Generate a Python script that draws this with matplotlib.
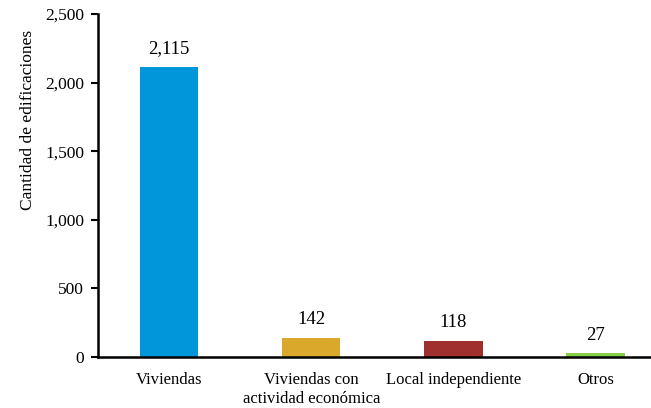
import matplotlib
matplotlib.use('Agg')
import matplotlib.pyplot as plt
from matplotlib.ticker import FuncFormatter

categorias = ['Viviendas', 'Viviendas con\nactividad económica', 'Local independiente', 'Otros']
edificaciones = [2115, 142, 118, 27]
colores = ['#0096D9', '#DAA92B', '#A0302D', '#86CE4A']

plt.rcParams['font.family'] = ['Liberation Serif', 'DejaVu Serif']

fig = plt.figure(figsize=(6.51, 4.08), dpi=100)
ax = fig.add_axes([0.1505, 0.125, 0.8495, 0.8407])

x = range(len(categorias))
ax.bar(x, edificaciones, width=0.41, color=colores)

for i, v in enumerate(edificaciones):
    ax.annotate(f'{v:,}', (i, v), xytext=(0, 7), textcoords='offset points',
                ha='center', va='bottom', fontsize=13.5)

ax.set_xlim(-0.5, 3.39)
ax.set_ylim(0, 2500)
ax.set_yticks(range(0, 2501, 500))
ax.yaxis.set_major_formatter(FuncFormatter(lambda v, p: f'{int(v):,}'))
ax.set_xticks(list(x))
ax.set_xticklabels(categorias, fontsize=12, linespacing=1.25)
ax.tick_params(axis='x', length=0, pad=11)
ax.tick_params(axis='y', length=5, width=1.5, labelsize=12.5, direction='out', pad=5)
ax.set_ylabel('Cantidad de edificaciones', fontsize=12.5)
ax.yaxis.set_label_coords(-0.112, 0.69)

ax.spines['top'].set_visible(False)
ax.spines['right'].set_visible(False)
ax.spines['left'].set_linewidth(1.8)
ax.spines['bottom'].set_linewidth(1.8)

fig.savefig('out.png', dpi=100)
